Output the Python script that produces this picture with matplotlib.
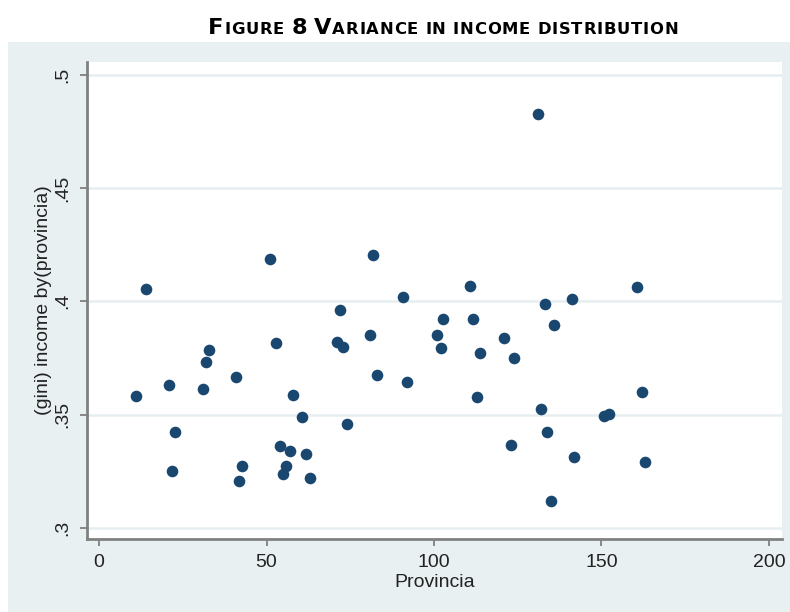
import matplotlib
matplotlib.use("Agg")
import matplotlib.pyplot as plt
from matplotlib.patches import Rectangle

# ---- data ----
provincia = [11, 14, 20.9, 21.7, 22.8, 30.9, 31.9, 32.8, 40.8, 41.8, 42.8,
             51.0, 52.8, 54.0, 54.8, 55.8, 57.0, 57.8, 60.7, 61.9, 62.9,
             71.1, 71.9, 72.8, 73.9, 80.8, 81.8, 82.9, 90.8, 91.8,
             100.8, 102.0, 102.8, 110.7, 111.7, 112.7, 113.7, 120.8, 123.0, 124.0,
             131.1, 131.9, 133.0, 133.7, 135.0, 135.9, 141.1, 141.8,
             150.9, 152.2, 160.7, 162.0, 163.0]
gini = [0.358, 0.4056, 0.363, 0.3251, 0.3423, 0.3611, 0.373, 0.3784, 0.3667, 0.3207, 0.3273,
        0.4186, 0.3818, 0.3362, 0.324, 0.3273, 0.334, 0.3586, 0.349, 0.3326, 0.322,
        0.382, 0.396, 0.380, 0.346, 0.385, 0.4203, 0.3674, 0.4019, 0.3645,
        0.385, 0.3792, 0.3924, 0.4067, 0.3924, 0.3578, 0.377, 0.3838, 0.3368, 0.3748,
        0.4828, 0.3523, 0.399, 0.3424, 0.312, 0.3895, 0.4012, 0.3314,
        0.3495, 0.3502, 0.4064, 0.360, 0.3292]
xticks = [0, 50, 100, 150, 200]
xtick_labels = ["0", "50", "100", "150", "200"]
yticks = [0.3, 0.35, 0.4, 0.45, 0.5]
ytick_labels = [".3", ".35", ".4", ".45", ".5"]
x_label = "Provincia"
y_label = "(gini) income by(provincia)"
title_words = [("FIGURE", True), ("8", True), ("VARIANCE", True),
               ("IN", False), ("INCOME", False), ("DISTRIBUTION", False)]

W, H = 790, 612
fig = plt.figure(figsize=(W / 100, H / 100), dpi=100)
fig.patch.set_facecolor("white")
bg = "#e9f0f2"
fig.patches.append(Rectangle((8 / W, 0), (W - 8) / W, (H - 42) / H,
                             transform=fig.transFigure, facecolor=bg,
                             edgecolor="none", zorder=-10))

ax = fig.add_axes([87 / W, 1 - 539 / H, (782 - 87) / W, (539 - 62) / H])
ax.set_facecolor("white")
ax.scatter(provincia, gini, s=70, color="#1a476f", zorder=3, linewidths=0)
ax.set_xlim(-3.6, 203.9)
ax.set_ylim(0.2951, 0.5056)

fam = "Liberation Sans"
fs = 14
ax.set_xticks(xticks)
ax.set_xticklabels(xtick_labels, fontsize=fs, family=fam, color="#222222")
ax.set_yticks(yticks)
ax.set_yticklabels(ytick_labels, fontsize=fs, family=fam, color="#222222",
                   rotation=90, va="center")
ax.tick_params(axis="both", direction="out", length=5, width=1.3, color="#808080", pad=6)
ax.set_xlabel(x_label, fontsize=fs, family=fam, color="#222222", labelpad=2)
ax.set_ylabel(y_label, fontsize=fs, family=fam, color="#222222", labelpad=2)

for side in ("top", "right"):
    ax.spines[side].set_visible(False)
for side in ("left", "bottom"):
    ax.spines[side].set_color("#808080")
    ax.spines[side].set_linewidth(2)
ax.yaxis.grid(True, color="#e6eef1", linewidth=1.8, zorder=0)
ax.set_axisbelow(True)

# ---- small caps title (per character, with tracking to fit width) ----
tfont = dict(family="DejaVu Sans", weight="bold", color="black")
big_pt = 16.2
small_pt = 11.8
chars = []  # (char, size)
for i, (w, cap) in enumerate(title_words):
    for j, ch in enumerate(w):
        chars.append((ch, big_pt if (cap and j == 0) else small_pt))
    if i < len(title_words) - 1:
        chars.append((" ", small_pt))

renderer = fig.canvas.get_renderer()
def adv(ch, size):
    a = fig.text(0, 0, "x" + ch + "x", fontsize=size, **tfont)
    b = fig.text(0, 0, "xx", fontsize=size, **tfont)
    wdt = a.get_window_extent(renderer).width - b.get_window_extent(renderer).width
    a.remove(); b.remove()
    return wdt

advs = [adv(c, s) for c, s in chars]
natural = sum(advs)
target_w = 470.0
track = (target_w - natural) / (len(chars) - 1)
total = natural + track * (len(chars) - 1)
x = 443.0 - total / 2
base_y = 1 - 34.0 / H
for (c, s), a in zip(chars, advs):
    if c != " ":
        fig.text(x / W, base_y, c, fontsize=s, ha="left", va="baseline", **tfont)
    x += a + track

fig.savefig("out.png", dpi=100)
